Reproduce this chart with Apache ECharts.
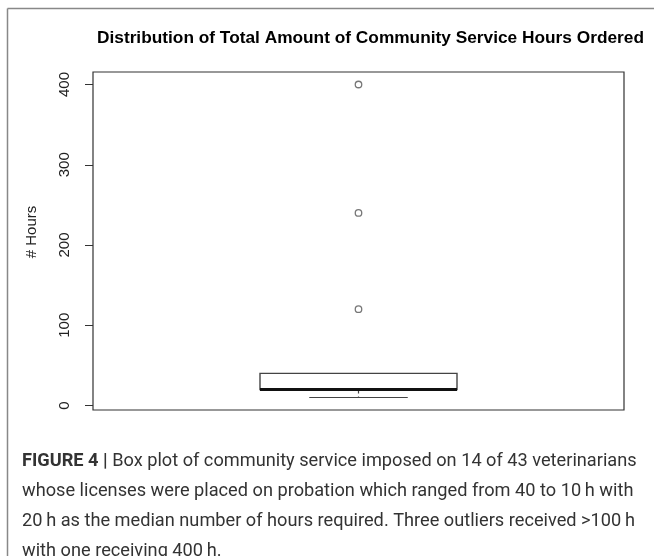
<!DOCTYPE html>
<html>
<head>
<meta charset="utf-8">
<script src="https://cdn.jsdelivr.net/npm/echarts@6/dist/echarts.min.js"></script>
<style>
  html, body { margin: 0; padding: 0; background: #fff; }
  #chart { width: 654px; height: 556px; }
</style>
</head>
<body>
<div id="chart"></div>
<script>
// Community service hours: five-number summary and outliers
const categories = ['Hours'];
const boxStats = [[10, 20, 20, 40, 40]]; // [lower whisker, Q1, median, Q3, upper whisker]
const outliers = [120, 240, 400];
const yTicks = [0, 100, 200, 300, 400];

const chart = echarts.init(document.getElementById('chart'), null, { renderer: 'canvas' });

const ink = '#222';
const boxLine = '#444';

chart.setOption({
  animation: false,
  backgroundColor: '#fff',
  title: {
    text: 'Distribution of Total Amount of Community Service Hours Ordered',
    left: 92,
    top: 25,
    textStyle: { fontFamily: 'Liberation Sans', fontWeight: 'bold', fontSize: 17.3, color: '#000' }
  },
  grid: {
    left: 93, right: 30, top: 72, bottom: 146,
    show: true, borderColor: '#333', borderWidth: 1.2, backgroundColor: 'transparent'
  },
  xAxis: {
    type: 'category',
    data: categories,
    axisLine: { show: false },
    axisTick: { show: false },
    axisLabel: { show: false },
    splitLine: { show: false }
  },
  yAxis: {
    type: 'value',
    min: -5.6,
    max: 415.6,
    name: '# Hours',
    nameLocation: 'middle',
    nameRotate: 90,
    nameGap: 54,
    nameTextStyle: { fontFamily: 'Liberation Sans', fontSize: 15, color: ink, padding: [0, 0, 0, 18] },
    axisLine: { show: false },
    splitLine: { show: false },
    axisTick: { show: true, length: 8, inside: false, customValues: yTicks, lineStyle: { color: '#333', width: 1 } },
    axisLabel: {
      customValues: yTicks,
      rotate: 90,
      margin: 21,
      fontFamily: 'Liberation Sans',
      fontSize: 15,
      color: ink
    }
  },
  series: [
    {
      type: 'custom',
      data: boxStats.map((s, i) => [i].concat(s)),
      renderItem: function (params, api) {
        const idx = api.value(0);
        const lo = api.coord([idx, api.value(1)]);
        const q1 = api.coord([idx, api.value(2)]);
        const med = api.coord([idx, api.value(3)]);
        const q3 = api.coord([idx, api.value(4)]);
        const hi = api.coord([idx, api.value(5)]);
        const band = api.size([1, 0])[0];
        const halfBox = band * 0.371 / 2;
        const halfCap = halfBox / 2;
        const cx = lo[0];
        return {
          type: 'group',
          children: [
            { type: 'line', shape: { x1: cx, y1: q1[1], x2: cx, y2: lo[1] }, style: { stroke: boxLine, lineWidth: 1.2, lineDash: [4, 3] } },
            { type: 'line', shape: { x1: cx, y1: q3[1], x2: cx, y2: hi[1] }, style: { stroke: boxLine, lineWidth: 1.2, lineDash: [4, 3] } },
            { type: 'line', shape: { x1: cx - halfCap, y1: lo[1], x2: cx + halfCap, y2: lo[1] }, style: { stroke: boxLine, lineWidth: 1.2 } },
            { type: 'rect', shape: { x: cx - halfBox, y: q3[1], width: halfBox * 2, height: q1[1] - q3[1] }, style: { fill: '#fff', stroke: boxLine, lineWidth: 1.4 } },
            { type: 'line', shape: { x1: cx - halfBox, y1: med[1], x2: cx + halfBox, y2: med[1] }, style: { stroke: '#111', lineWidth: 3 } }
          ]
        };
      }
    },
    {
      type: 'scatter',
      data: outliers.map(v => [0, v]),
      symbol: 'circle',
      symbolSize: 6.5,
      itemStyle: { color: '#fff', borderColor: '#555', borderWidth: 1.3 }
    }
  ],
  graphic: [
    // page frame on the top and left edges
    { type: 'line', shape: { x1: 7.5, y1: 8.5, x2: 654, y2: 8.5 }, style: { stroke: '#888', lineWidth: 1.5 } },
    { type: 'line', shape: { x1: 7.5, y1: 8.5, x2: 7.5, y2: 556 }, style: { stroke: '#888', lineWidth: 1.5 } },
    {
      type: 'text',
      left: 22,
      top: 447,
      style: {
        text: '{b|FIGURE 4 |} Box plot of community service imposed on 14 of 43 veterinarians\n' +
              'whose licenses were placed on probation which ranged from 40 to 10\u2009h with\n' +
              '20\u2009h as the median number of hours required. Three outliers received >100\u2009h\n' +
              'with one receiving 400\u2009h.',
        fontFamily: 'Roboto',
        fontSize: 18.2,
        lineHeight: 29.7,
        fill: '#333',
        rich: {
          b: { fontFamily: 'Roboto', fontWeight: 'bold', fontSize: 18.2, lineHeight: 29.7, fill: '#333' }
        }
      }
    }
  ]
});
</script>
</body>
</html>
